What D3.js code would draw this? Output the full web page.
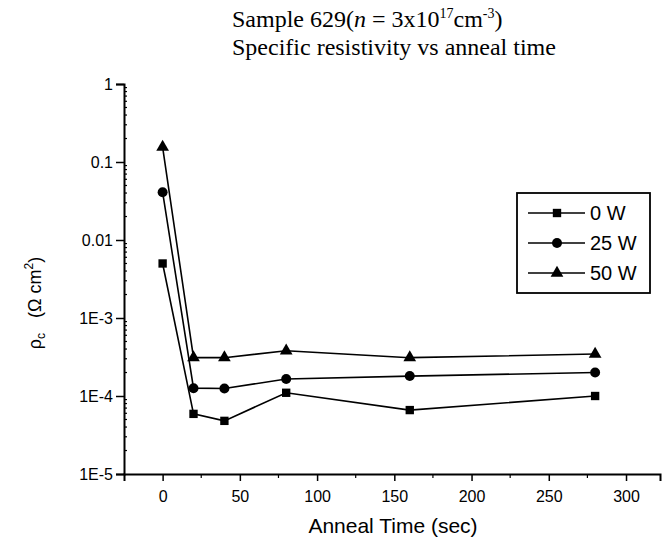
<!DOCTYPE html>
<html>
<head>
<meta charset="utf-8">
<script src="https://cdn.jsdelivr.net/npm/d3@7"></script>
<style>
  body { margin: 0; background: #fff; }
  text { font-family: "Liberation Sans", Arial, sans-serif; fill: #000; }
  .serif { font-family: "Liberation Serif", "Times New Roman", serif; }
</style>
</head>
<body>
<div id="chart"></div>
<script>
// Data
const times = [0, 20, 40, 80, 160, 280]
const seriesNames = ['0 W', '25 W', '50 W']
const rho0W = [0.005, 5.9e-5, 4.8e-5, 1.1e-4, 6.6e-5, 1.0e-4]
const rho25W = [0.041, 1.26e-4, 1.25e-4, 1.65e-4, 1.8e-4, 2.0e-4]
const rho50W = [0.155, 3.1e-4, 3.1e-4, 3.8e-4, 3.1e-4, 3.45e-4]
const xTicks = [0, 50, 100, 150, 200, 250, 300]
const yTicks = [1, 0.1, 0.01, 1e-3, 1e-4, 1e-5]
const yTickLabels = ['1', '0.1', '0.01', '1E-3', '1E-4', '1E-5']

const symbols = [d3.symbolSquare, d3.symbolCircle, d3.symbolTriangle]
const symbolSizes = [70, 78, 70]

function draw() {
  let dimensions = {
    width: 670,
    height: 544,
    left: 124,
    top: 84,
    right: 660,
    bottom: 474,
  }

  const svg = d3.select('#chart')
    .append('svg')
    .attr('width', dimensions.width)
    .attr('height', dimensions.height)

  // Scales
  const xScale = d3.scaleLinear()
    .domain([-25, 322])
    .range([dimensions.left, dimensions.right])

  const yScale = d3.scaleLog()
    .domain([1e-5, 1])
    .range([dimensions.bottom, dimensions.top])

  // Axes
  const xAxis = d3.axisBottom(xScale)
    .tickValues(xTicks)
    .tickSize(7)
    .tickFormat(d3.format('d'))
  const xg = svg.append('g')
    .attr('transform', `translate(0, ${dimensions.bottom})`)
    .call(xAxis)
  xg.select('.domain').attr('stroke-width', 2)
  xg.selectAll('.tick line').attr('stroke-width', 1.5)
  xg.selectAll('.tick text')
    .attr('dy', '1.1em')
    .style('font-size', '16px')
    .style('font-family', '"Liberation Sans", Arial, sans-serif')

  // minor x ticks
  const xMinor = d3.range(25, 325, 50)
  svg.append('g')
    .selectAll('line')
    .data(xMinor)
    .join('line')
    .attr('x1', d => xScale(d))
    .attr('x2', d => xScale(d))
    .attr('y1', dimensions.bottom)
    .attr('y2', dimensions.bottom + 4)
    .attr('stroke', '#000')
    .attr('stroke-width', 1.2)

  const yAxis = d3.axisLeft(yScale)
    .tickValues(yTicks)
    .tickSize(8)
    .tickPadding(3)
    .tickFormat((d, i) => yTickLabels[i])
  const yg = svg.append('g')
    .attr('transform', `translate(${dimensions.left}, 0)`)
    .call(yAxis)
  yg.select('.domain').attr('stroke-width', 2)
  yg.selectAll('.tick line').attr('stroke-width', 1.5)
  yg.selectAll('.tick text')
    .style('font-size', '16px')
    .style('font-family', '"Liberation Sans", Arial, sans-serif')

  // minor y ticks (inside)
  const yMinor = []
  for (let e = -5; e < 0; e++) {
    for (let m = 2; m <= 9; m++) yMinor.push(m * Math.pow(10, e))
  }
  svg.append('g')
    .selectAll('line')
    .data(yMinor)
    .join('line')
    .attr('x1', dimensions.left)
    .attr('x2', dimensions.left + 3)
    .attr('y1', d => yScale(d))
    .attr('y2', d => yScale(d))
    .attr('stroke', '#000')
    .attr('stroke-width', 1.2)

  // Series
  const allSeries = [rho0W, rho25W, rho50W].map((vals, i) => ({
    name: seriesNames[i],
    points: vals.map((v, j) => ({ x: times[j], y: v })),
  }))

  const line = d3.line()
    .x(d => xScale(d.x))
    .y(d => yScale(d.y))

  const seriesG = svg.append('g')
    .selectAll('g')
    .data(allSeries)
    .join('g')

  seriesG.append('path')
    .attr('d', d => line(d.points))
    .attr('fill', 'none')
    .attr('stroke', '#000')
    .attr('stroke-width', 1.6)

  seriesG.each(function (s, i) {
    d3.select(this)
      .selectAll('path.mark')
      .data(s.points)
      .join('path')
      .classed('mark', true)
      .attr('transform', d => `translate(${xScale(d.x)}, ${yScale(d.y)})`)
      .attr('d', d3.symbol().type(symbols[i]).size(symbolSizes[i]))
      .attr('fill', '#000')
  })

  // Legend
  const legend = svg.append('g')
    .attr('transform', 'translate(517, 193)')
  legend.append('rect')
    .attr('width', 133)
    .attr('height', 100)
    .attr('fill', '#fff')
    .attr('stroke', '#000')
    .attr('stroke-width', 1.8)

  const items = legend.selectAll('g.item')
    .data(seriesNames)
    .join('g')
    .attr('transform', (d, i) => `translate(0, ${20 + i * 30})`)
  items.append('line')
    .attr('x1', 11)
    .attr('x2', 68)
    .attr('stroke', '#000')
    .attr('stroke-width', 1.6)
  items.append('path')
    .attr('transform', 'translate(40, 0)')
    .attr('d', (d, i) => d3.symbol().type(symbols[i]).size(symbolSizes[i])())
    .attr('fill', '#000')
  items.append('text')
    .attr('x', 73)
    .attr('dy', '0.36em')
    .style('font-size', '20px')
    .text(d => d)

  // Titles (left aligned, as in the original)
  const t1 = svg.append('text')
    .attr('class', 'serif')
    .attr('x', 232)
    .attr('y', 27)
    .style('font-size', '24px')
  t1.append('tspan').text('Sample 629(')
  t1.append('tspan').style('font-style', 'italic').text('n')
  t1.append('tspan').text(' = 3x10')
  t1.append('tspan').attr('dy', -9).style('font-size', '14px').text('17')
  t1.append('tspan').attr('dy', 9).text('cm')
  t1.append('tspan').attr('dy', -9).style('font-size', '14px').text('-3')
  t1.append('tspan').attr('dy', 9).text(')')

  svg.append('text')
    .attr('class', 'serif')
    .attr('x', 232)
    .attr('y', 55)
    .style('font-size', '24px')
    .text('Specific resistivity vs anneal time')

  // Axis labels
  svg.append('text')
    .attr('x', 393)
    .attr('y', 533)
    .attr('text-anchor', 'middle')
    .style('font-size', '21px')
    .text('Anneal Time (sec)')

  const yl = svg.append('text')
    .attr('transform', 'translate(41, 303) rotate(-90)')
    .attr('text-anchor', 'middle')
    .style('font-size', '18px')
  yl.append('tspan').text('ρ')
  yl.append('tspan').attr('dy', 4).style('font-size', '12px').text('c')
  yl.append('tspan').attr('dy', -4).text('\u00a0\u00a0\u00a0(Ω cm')
  yl.append('tspan').attr('dy', -8).style('font-size', '12px').text('2')
  yl.append('tspan').attr('dy', 8).text(')')
}

draw()
</script>
</body>
</html>
